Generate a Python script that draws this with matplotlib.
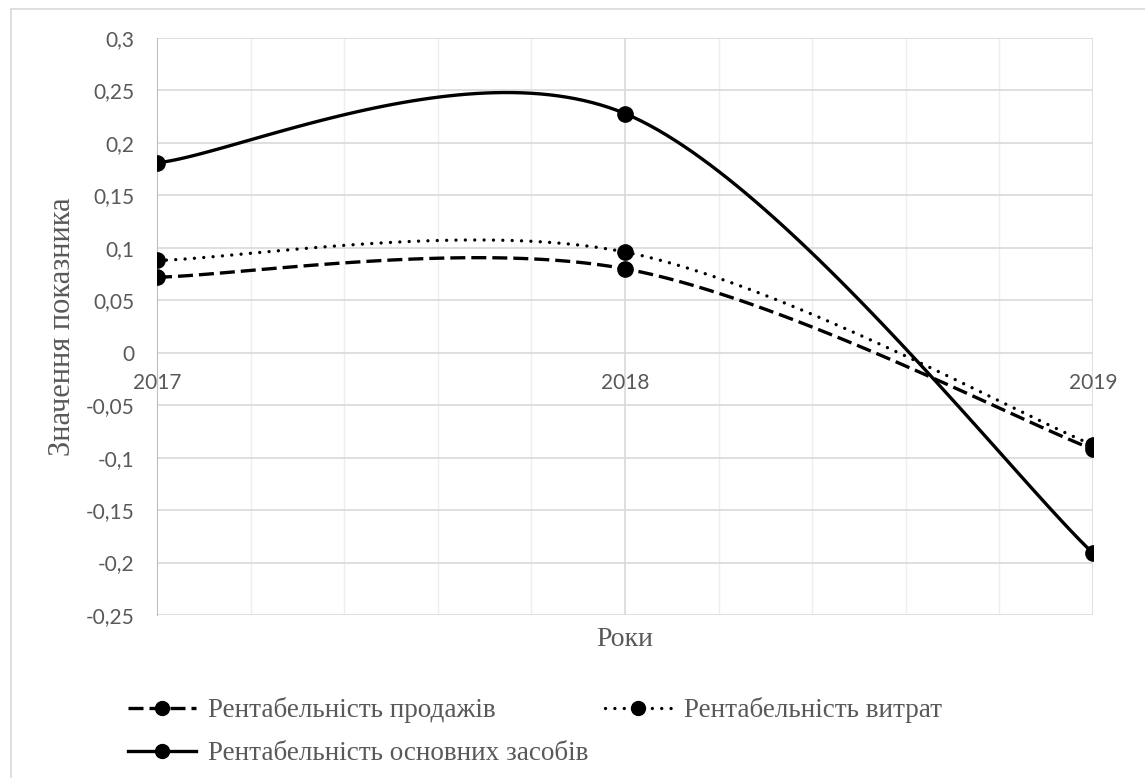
import numpy as np
import matplotlib.pyplot as plt
from matplotlib.patches import Rectangle

# Дані
years = ['2017', '2018', '2019']
sales = [0.072, 0.080, -0.092]      # Рентабельність продажів
costs = [0.088, 0.096, -0.088]      # Рентабельність витрат
assets = [0.181, 0.228, -0.191]     # Рентабельність основних засобів

y_ticks = [0.3, 0.25, 0.2, 0.15, 0.1, 0.05, 0, -0.05, -0.1, -0.15, -0.2, -0.25]


def smooth(xs, ys, n=60):
    """Згладжена лінія як в Excel (Безьє через точки)."""
    p = np.column_stack([xs, ys]).astype(float)
    ext = np.vstack([p[0], p, p[-1]])
    out = []
    t = np.linspace(0, 1, n)[:, None]
    for i in range(len(p) - 1):
        p0, p1 = ext[i + 1], ext[i + 2]
        c1 = p0 + (ext[i + 2] - ext[i]) / 6
        c2 = p1 - (ext[i + 3] - ext[i + 1]) / 6
        seg = (1 - t) ** 3 * p0 + 3 * (1 - t) ** 2 * t * c1 + 3 * (1 - t) * t ** 2 * c2 + t ** 3 * p1
        out.append(seg)
    out = np.vstack(out)
    return out[:, 0], out[:, 1]


fig = plt.figure(figsize=(11.45, 7.78), dpi=100)
ax = fig.add_axes([157 / 1145, 1 - 615 / 778, 936 / 1145, 577 / 778])

# рамка діаграми
fig.patches.append(Rectangle((11 / 1145, -0.1), 1.2, 1 - 9 / 778 + 0.1, transform=fig.transFigure,
                             fill=False, edgecolor='#d9d9d9', linewidth=1.2))

x = np.arange(len(years))
series = [
    (sales, (0, (4.5, 1.8)), 'butt', 'Рентабельність продажів'),
    (costs, (0, (0.01, 2.8)), 'round', 'Рентабельність витрат'),
    (assets, '-', 'butt', 'Рентабельність основних засобів'),
]
handles = []
for vals, ls, cap, label in series:
    sx, sy = smooth(x, vals)
    ax.plot(sx, sy, color='black', linestyle=ls, linewidth=2.4, dash_capstyle=cap, zorder=3)
    ax.plot(x, vals, 'o', color='black', markersize=11, zorder=4)
    h, = ax.plot([], [], color='black', linestyle=ls, linewidth=2.4, dash_capstyle=cap,
                 marker='o', markersize=10, label=label)
    handles.append(h)

ax.set_xlim(0, 2)
ax.set_ylim(-0.25, 0.3)
ax.set_yticks(y_ticks)
ax.set_yticklabels([f'{v:g}'.replace('.', ',') for v in y_ticks],
                   fontsize=15, color='#595959', family='Lato')
ax.set_xticks(np.arange(0, 2.01, 0.2), minor=True)
ax.set_xticks(x)
ax.set_xticklabels([])
for xi, yr in zip(x, years):
    ax.text(xi, -0.0286, yr, ha='center', va='center', fontsize=15, color='#595959', family='Lato')

ax.grid(axis='y', color='#d9d9d9', linewidth=1.2)
ax.grid(axis='x', which='minor', color='#eeeeee', linewidth=1.0)
ax.grid(axis='x', which='major', color='#d9d9d9', linewidth=1.2)
ax.tick_params(which='both', length=0)
ax.tick_params(axis='y', pad=16)
for s in ['top', 'right', 'bottom']:
    ax.spines[s].set_visible(False)
ax.spines['left'].set_color('#bfbfbf')

ax.set_xlabel('Роки', fontsize=20, family='Liberation Serif', color='#595959', va='top')
ax.xaxis.set_label_coords(0.5, -0.021)
ax.set_ylabel('Значення показника', fontsize=22, family='Liberation Serif', color='#595959')
ax.yaxis.set_label_coords(-0.086, 0.5)

leg = fig.legend([handles[0], handles[2], handles[1]],
                 [handles[0].get_label(), handles[2].get_label(), handles[1].get_label()],
                 ncol=2, loc='upper left', bbox_to_anchor=(128 / 1145, 1 - 697 / 778),
                 frameon=False, borderpad=0, borderaxespad=0, handlelength=2.5, handletextpad=0.45,
                 columnspacing=0.6, labelspacing=0.67,
                 prop={'family': 'Liberation Serif', 'size': 19.5})
for t in leg.get_texts():
    t.set_color('#595959')

fig.savefig('out.png', dpi=100)
